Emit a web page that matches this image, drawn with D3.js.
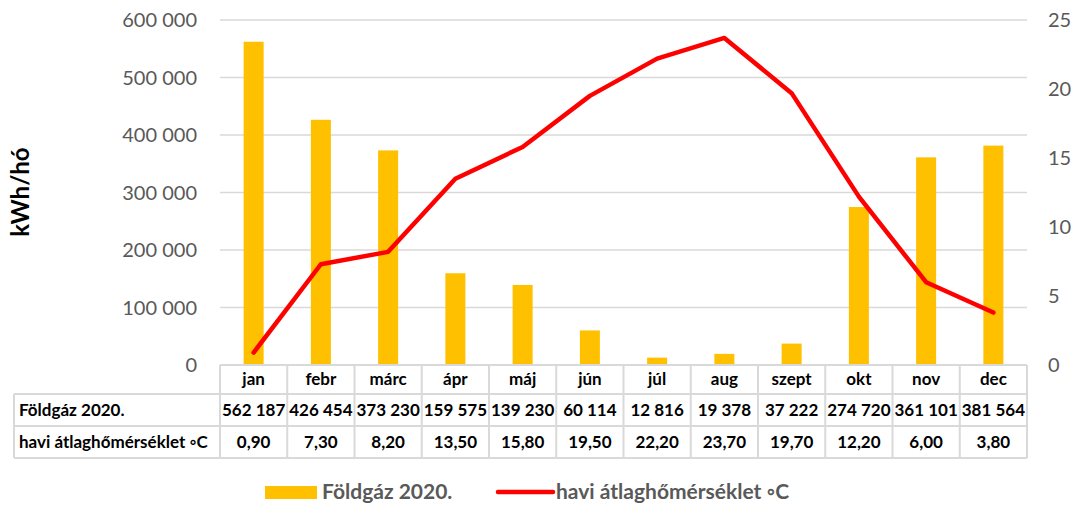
<!DOCTYPE html>
<html lang="hu">
  <head>
    <meta charset="utf-8">
    <title>Földgáz 2020</title>
    <script src="https://d3js.org/d3.v7.min.js"></script>
    <style>
      body { margin: 0; background: #fff; }
      svg text { font-family: Lato, "Open Sans", sans-serif; }
      .tick-lbl { fill: #595959; font-size: 20px; }
      .tbl text { font-weight: bold; font-size: 17px; fill: #000; }
      .legend text { font-weight: bold; font-size: 21px; fill: #595959; }
    </style>
  </head>
  <body>
    <div id="chart"></div>
    <script>
      "use strict"

      // adatok
      const honapok = ["jan", "febr", "márc", "ápr", "máj", "jún", "júl", "aug", "szept", "okt", "nov", "dec"]
      const foldgaz = [562187, 426454, 373230, 159575, 139230, 60114, 12816, 19378, 37222, 274720, 361101, 381564]
      const homerseklet = [0.90, 7.30, 8.20, 13.50, 15.80, 19.50, 22.20, 23.70, 19.70, 12.20, 6.00, 3.80]
      const balTickek = [0, 100000, 200000, 300000, 400000, 500000, 600000]
      const jobbTickek = [0, 5, 10, 15, 20, 25]
      const sorNevek = ["Földgáz 2020.", "havi átlaghőmérséklet ◦C"]

      const W = 1072, H = 506
      const plot = {left: 220, right: 1027, top: 20, bottom: 365}

      const ezres = v => d3.format(",")(v).replace(/,/g, " ")
      const tized = v => d3.format(".2f")(v).replace(".", ",")

      const svg = d3.select("#chart").append("svg")
        .attr("width", W).attr("height", H)

      const x = d3.scaleBand().domain(honapok).range([plot.left, plot.right]).padding(0)
      const yBal = d3.scaleLinear().domain([0, 600000]).range([plot.bottom, plot.top])
      const yJobb = d3.scaleLinear().domain([0, 25]).range([plot.bottom, plot.top])

      // racsvonalak
      svg.append("g").selectAll("line")
        .data(balTickek.filter(d => d > 0))
        .enter().append("line")
          .attr("x1", plot.left).attr("x2", plot.right)
          .attr("y1", d => yBal(d)).attr("y2", d => yBal(d))
          .attr("stroke", "#d9d9d9").attr("stroke-width", 1.3)

      // bal tengely feliratok
      svg.append("g").selectAll("text")
        .data(balTickek)
        .enter().append("text")
          .attr("class", "tick-lbl")
          .attr("x", 197).attr("y", d => yBal(d))
          .attr("dy", "0.35em").attr("text-anchor", "end")
          .text(ezres)

      // jobb tengely feliratok
      svg.append("g").selectAll("text")
        .data(jobbTickek)
        .enter().append("text")
          .attr("class", "tick-lbl")
          .attr("x", 1048).attr("y", d => yJobb(d))
          .attr("dy", "0.35em")
          .text(d => d)

      svg.append("text")
        .attr("transform", "translate(29,192) rotate(-90)")
        .attr("text-anchor", "middle")
        .style("font-weight", "bold").style("font-size", "24px").style("fill", "#000")
        .text("kWh/hó")

      // oszlopok
      const oszlopSzel = 20
      svg.append("g").selectAll("rect")
        .data(foldgaz)
        .enter().append("rect")
          .attr("x", (d, i) => x(honapok[i]) + x.bandwidth() / 2 - oszlopSzel / 2)
          .attr("y", d => yBal(d))
          .attr("width", oszlopSzel)
          .attr("height", d => yBal(0) - yBal(d))
          .attr("fill", "#FFC000")

      // homerseklet vonal
      const vonal = d3.line()
        .x((d, i) => x(honapok[i]) + x.bandwidth() / 2)
        .y(d => yJobb(d))
      svg.append("path")
        .datum(homerseklet)
        .attr("d", vonal)
        .attr("fill", "none").attr("stroke", "#FF0000")
        .attr("stroke-width", 4.5)
        .attr("stroke-linejoin", "round").attr("stroke-linecap", "round")

      // adattabla
      const tbl = svg.append("g").attr("class", "tbl")
      const sorok = [365, 394, 426, 458]
      const bal = 14
      const racs = "#d9d9d9"
      const vonalRajz = (x1, y1, x2, y2) => tbl.append("line")
        .attr("x1", x1).attr("y1", y1).attr("x2", x2).attr("y2", y2)
        .attr("stroke", racs).attr("stroke-width", 2)

      vonalRajz(plot.left, sorok[0], plot.right, sorok[0])
      sorok.slice(1).forEach(y => vonalRajz(bal, y, plot.right, y))
      vonalRajz(bal, sorok[1], bal, sorok[3])
      x.domain().forEach(m => vonalRajz(x(m), sorok[0], x(m), sorok[3]))
      vonalRajz(plot.right, sorok[0], plot.right, sorok[3])

      const kozep = i => (sorok[i] + sorok[i + 1]) / 2
      tbl.append("g").selectAll("text")
        .data(honapok)
        .enter().append("text")
          .attr("x", d => x(d) + x.bandwidth() / 2).attr("y", kozep(0))
          .attr("dy", "0.35em").attr("text-anchor", "middle")
          .text(d => d)

      sorNevek.forEach((n, i) => tbl.append("text")
        .attr("x", 19).attr("y", kozep(i + 1)).attr("dy", "0.35em").text(n))

      tbl.append("g").selectAll("text")
        .data(foldgaz)
        .enter().append("text")
          .attr("x", (d, i) => x(honapok[i]) + x.bandwidth() / 2).attr("y", kozep(1))
          .attr("dy", "0.35em").attr("text-anchor", "middle")
          .text(ezres)

      tbl.append("g").selectAll("text")
        .data(homerseklet)
        .enter().append("text")
          .attr("x", (d, i) => x(honapok[i]) + x.bandwidth() / 2).attr("y", kozep(2))
          .attr("dy", "0.35em").attr("text-anchor", "middle")
          .text(tized)

      // jelmagyarazat
      const legY = 492
      const leg = svg.append("g").attr("class", "legend")
      leg.append("rect").attr("x", 265).attr("y", legY - 6).attr("width", 52).attr("height", 13).attr("fill", "#FFC000")
      leg.append("text").attr("x", 322).attr("y", legY).attr("dy", "0.33em").text(sorNevek[0])
      leg.append("line").attr("x1", 498).attr("x2", 553).attr("y1", legY).attr("y2", legY)
        .attr("stroke", "#FF0000").attr("stroke-width", 4.5).attr("stroke-linecap", "round")
      leg.append("text").attr("x", 556).attr("y", legY).attr("dy", "0.33em").text(sorNevek[1])
    </script>
  </body>
</html>
